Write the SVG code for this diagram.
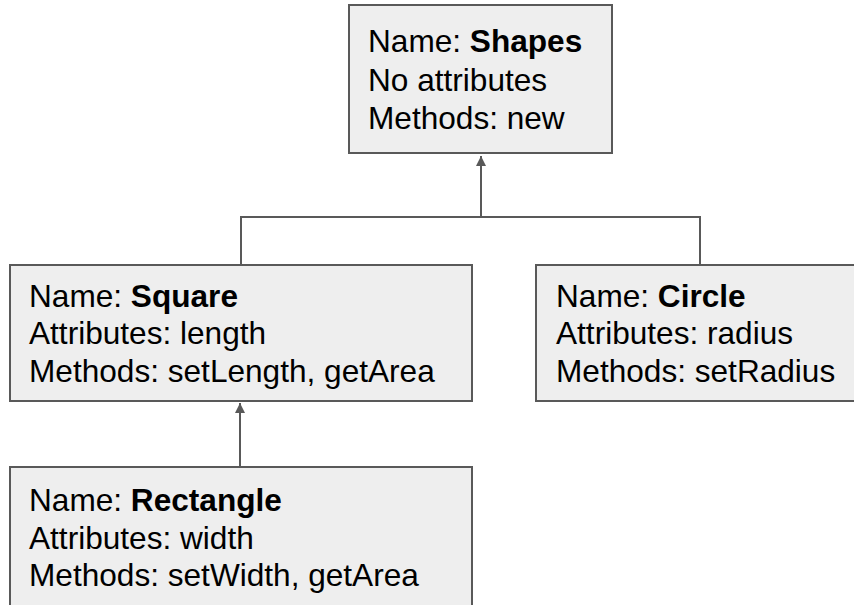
<svg xmlns="http://www.w3.org/2000/svg" width="854" height="605" viewBox="0 0 854 605">
<style>
.box{fill:#eeeeee;stroke:#595959;stroke-width:2}
.t{font-family:"Liberation Sans",Arial,sans-serif;font-size:31.6px;fill:#000}
.b{font-weight:bold}
.c{fill:none;stroke:#595959;stroke-width:2}
</style>
<defs>
<marker id="ah" markerWidth="10" markerHeight="12" refX="10" refY="5" orient="auto" markerUnits="userSpaceOnUse" viewBox="0 0 10 10">
<path d="M0,0 L10,5 L0,10 Z" fill="#595959"/>
</marker>
</defs>
<g id="connectors">
<path class="c" d="M241,265 V217 H700 V265"/>
<path class="c" d="M481,217 V156" marker-end="url(#ah)"/>
<path class="c" d="M240,467 V403" marker-end="url(#ah)"/>
</g>
<g id="shapes">
<rect class="box" x="349" y="5" width="263" height="148"/>
<text class="t" x="368" y="52">Name: <tspan class="b">Shapes</tspan></text>
<text class="t" x="368" y="90.5">No attributes</text>
<text class="t" x="368" y="129">Methods: new</text>
</g>
<g id="square">
<rect class="box" x="10" y="265" width="462" height="136"/>
<text class="t" x="29" y="307">Name: <tspan class="b">Square</tspan></text>
<text class="t" x="29" y="344">Attributes: length</text>
<text class="t" x="29" y="382">Methods: setLength, getArea</text>
</g>
<g id="circle">
<rect class="box" x="536" y="265" width="340" height="136"/>
<text class="t" x="556" y="307">Name: <tspan class="b">Circle</tspan></text>
<text class="t" x="556" y="344">Attributes: radius</text>
<text class="t" x="556" y="382">Methods: setRadius</text>
</g>
<g id="rectangle">
<rect class="box" x="10" y="467" width="462" height="160"/>
<text class="t" x="29" y="511">Name: <tspan class="b">Rectangle</tspan></text>
<text class="t" x="29" y="548.5">Attributes: width</text>
<text class="t" x="29" y="586">Methods: setWidth, getArea</text>
</g>
</svg>
